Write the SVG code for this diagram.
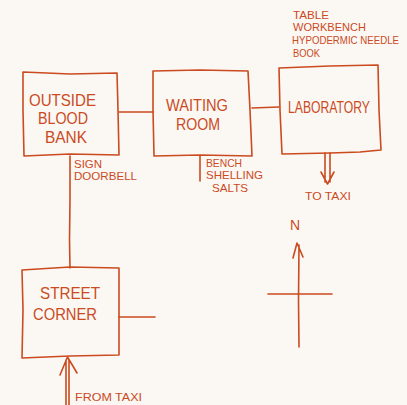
<svg xmlns="http://www.w3.org/2000/svg" width="407" height="405" viewBox="0 0 407 405">
<style>
.ln{fill:none;stroke:#cb4a1f;stroke-width:1.6;stroke-linecap:round;stroke-linejoin:round}
.t{font-family:"Liberation Sans",Arial,sans-serif;fill:#cb4a1f;font-size:17px}
.s{font-family:"Liberation Sans",Arial,sans-serif;fill:#cb4a1f;font-size:11.5px}
</style>
<rect width="407" height="405" fill="#fbf8f3"/>
<g id="connectors">
<path class="ln" d="M119 112 L153 112"/>
<path class="ln" d="M252 108 L279 107"/>
<path class="ln" d="M70 156 L70 200 L69.5 240 L70 268"/>
<path class="ln" d="M200 156 L200 181"/>
<path class="ln" d="M119 317 L155 317"/>
<path class="ln" d="M325 153 L325 182 M330 153 L330 182 M321 172 L327.5 184 L334 172"/>
<path class="ln" d="M66 405 L66 360 M69 405 L69 360 M60 375 L67.5 357 L77 373"/>
</g>
<g id="outside-blood-bank">
<path class="ln" d="M23 72 L70 74 L117 73 L118 110 L119 155 L70 154 L24 156 L23 110 Z"/>
<text class="t" x="29" y="106" textLength="67" lengthAdjust="spacingAndGlyphs">OUTSIDE</text>
<text class="t" x="38" y="124" textLength="50" lengthAdjust="spacingAndGlyphs">BLOOD</text>
<text class="t" x="45" y="143" textLength="42" lengthAdjust="spacingAndGlyphs">BANK</text>
<text class="s" x="74" y="168" textLength="28" lengthAdjust="spacingAndGlyphs">SIGN</text>
<text class="s" x="74" y="180" textLength="63" lengthAdjust="spacingAndGlyphs">DOORBELL</text>
</g>
<g id="waiting-room">
<path class="ln" d="M153 71 L200 70 L248 71 L250 110 L252 156 L200 155 L154 156 L153 110 Z"/>
<text class="t" x="166" y="111" textLength="62" lengthAdjust="spacingAndGlyphs">WAITING</text>
<text class="t" x="176" y="130" textLength="44" lengthAdjust="spacingAndGlyphs">ROOM</text>
<text class="s" x="206" y="167" textLength="36" lengthAdjust="spacingAndGlyphs">BENCH</text>
<text class="s" x="206" y="179" textLength="57" lengthAdjust="spacingAndGlyphs">SHELLING</text>
<text class="s" x="212" y="192" textLength="36" lengthAdjust="spacingAndGlyphs">SALTS</text>
</g>
<g id="laboratory">
<path class="ln" d="M279 68 L330 66 L378 65 L379 110 L381 150 L360 152 L330 153 L282 154 L280 110 Z"/>
<text class="t" x="288" y="113" textLength="82" lengthAdjust="spacingAndGlyphs">LABORATORY</text>
<text class="s" x="293" y="19" textLength="36" lengthAdjust="spacingAndGlyphs">TABLE</text>
<text class="s" x="293" y="31" textLength="73" lengthAdjust="spacingAndGlyphs">WORKBENCH</text>
<text class="s" x="292" y="44" style="font-size:10.5px" textLength="107" lengthAdjust="spacingAndGlyphs">HYPODERMIC NEEDLE</text>
<text class="s" x="293" y="57" textLength="27" lengthAdjust="spacingAndGlyphs">BOOK</text>
<text class="s" x="305" y="200" textLength="46" lengthAdjust="spacingAndGlyphs">TO TAXI</text>
</g>
<g id="street-corner">
<path class="ln" d="M22 270 L70 267 L119 268 L119 310 L119 355 L70 356 L22 358 L23 310 Z"/>
<text class="t" x="40" y="299" textLength="60" lengthAdjust="spacingAndGlyphs">STREET</text>
<text class="t" x="33" y="320" textLength="64" lengthAdjust="spacingAndGlyphs">CORNER</text>
<text class="s" x="75" y="401" textLength="67" lengthAdjust="spacingAndGlyphs">FROM TAXI</text>
</g>
<g id="compass">
<text class="s" x="290" y="230" style="font-size:14px">N</text>
<path class="ln" d="M299 245 L298.5 300 L299 347 M293 258 L297 243 L303 257 M268 294 L332 294"/>
</g>
</svg>
